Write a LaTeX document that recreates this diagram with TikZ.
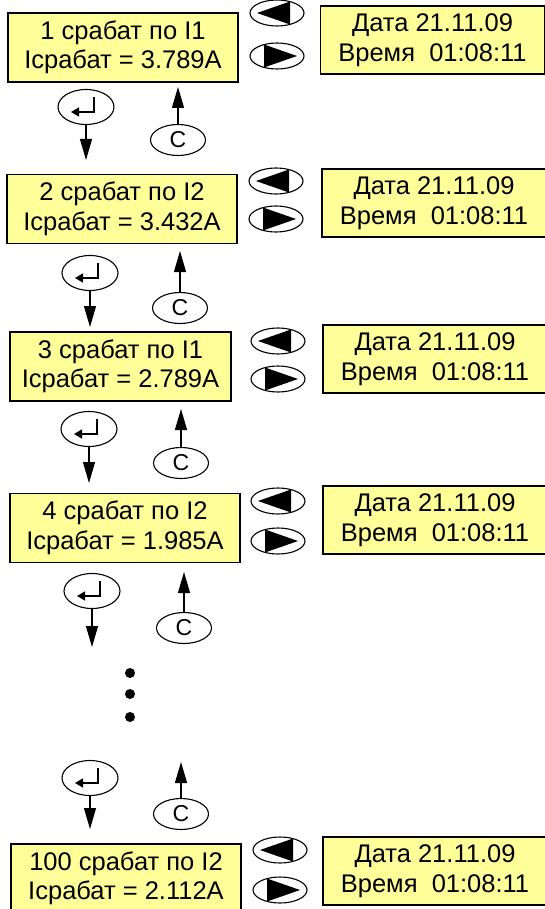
\documentclass[tikz,border=0pt]{standalone}
\usepackage{fontspec}
\setmainfont{Liberation Sans}
\usepackage{tikz}
\usetikzlibrary{arrows.meta}
\usetikzlibrary{calc}
\usetikzlibrary{shapes.geometric}
\definecolor{lcdyellow}{RGB}{255,255,153}

\tikzset{
  lcd/.style={draw,line width=1.4pt,fill=lcdyellow,align=center,inner sep=0pt,
    minimum width=230pt,minimum height=69pt,font=\fontsize{25.5}{29.5}\selectfont},
  datebox/.style={lcd,minimum width=224pt,minimum height=68pt},
  btn/.style={draw,ellipse,line width=1.1pt,inner sep=0pt,minimum width=54pt,minimum height=26pt},
  btnleft/.style={btn,path picture={
    \fill ($(path picture bounding box.center)+(-20pt,0pt)$) -- ($(path picture bounding box.center)+(13pt,11.5pt)$)
      -- ($(path picture bounding box.center)+(13pt,-11.5pt)$) -- cycle;}},
  btnright/.style={btn,path picture={
    \fill ($(path picture bounding box.center)+(20pt,0pt)$) -- ($(path picture bounding box.center)+(-13pt,11.5pt)$)
      -- ($(path picture bounding box.center)+(-13pt,-11.5pt)$) -- cycle;}},
  key/.style={draw,ellipse,line width=1.1pt,inner sep=0pt,minimum width=55pt,minimum height=31pt,
    font=\fontsize{23}{23}\selectfont},
  enterkey/.style={key,minimum width=56pt,minimum height=35pt,path picture={
    \draw[line width=1.4pt,-{Triangle[length=8pt,width=9pt]}] ($(path picture bounding box.center)+(8pt,10pt)$)
      -- ($(path picture bounding box.center)+(8pt,-5pt)$) -- ($(path picture bounding box.center)+(-15pt,-5pt)$);}},
}

\begin{document}
\begin{tikzpicture}[x=1pt,y=-1pt,line width=1.1pt,>={Triangle[length=21pt,width=12pt]}]
\useasboundingbox (0,0) rectangle (545,909);
\clip (0,0) rectangle (545,909);
% first record
\node[lcd] (L1) at (123,47.5) {1 срабат по I1\\Iсрабат = 3.789A};
\node[btnleft] (BL1) at (277,13) {};
\node[btnright] (BR1) at (277,56) {};
\node[datebox] (D1) at (432.5,40) {Дата 21.11.09\\Время\ \ 01:08:11};
\node[enterkey] (E1) at (86,107) {};
\node[key] (C1) at (178,140) {C};
\coordinate (e1) at (86,160);
\coordinate (c1) at (178,87);
\draw [->] (E1) -- (e1);
\draw [->] (C1) -- (c1);
% second record
\node[lcd] (L2) at (122,209) {2 срабат по I2\\Iсрабат = 3.432A};
\node[btnleft] (BL2) at (276,181) {};
\node[btnright] (BR2) at (276,219) {};
\node[datebox] (D2) at (434,203) {Дата 21.11.09\\Время\ \ 01:08:11};
\node[enterkey] (E2) at (90,273) {};
\node[key] (C2) at (180,308) {C};
\coordinate (e2) at (90,327);
\coordinate (c2) at (180,251);
\draw [->] (E2) -- (e2);
\draw [->] (C2) -- (c2);
% third record
\node[lcd,minimum width=221pt] (L3) at (120.5,366.5) {3 срабат по I1\\Iсрабат = 2.789A};
\node[btnleft] (BL3) at (278,341) {};
\node[btnright] (BR3) at (278,379) {};
\node[datebox] (D3) at (435,359) {Дата 21.11.09\\Время\ \ 01:08:11};
\node[enterkey] (E3) at (89,429) {};
\node[key] (C3) at (181,463) {C};
\coordinate (e3) at (89,483);
\coordinate (c3) at (181,409);
\draw [->] (E3) -- (e3);
\draw [->] (C3) -- (c3);
% fourth record
\node[lcd] (L4) at (125,528) {4 срабат по I2\\Iсрабат = 1.985A};
\node[btnleft] (BL4) at (278,501) {};
\node[btnright] (BR4) at (278,541) {};
\node[datebox] (D4) at (435,520) {Дата 21.11.09\\Время\ \ 01:08:11};
\node[enterkey] (E4) at (92,591) {};
\node[key] (C4) at (184,628) {C};
\coordinate (e4) at (92,647);
\coordinate (c4) at (184,572);
\draw [->] (E4) -- (e4);
\draw [->] (C4) -- (c4);
% skipped records
\fill (130,673) circle (5pt);
\fill (130,694) circle (5pt);
\fill (130,717) circle (5pt);
% last record
\node[enterkey] (E5) at (90,778) {};
\node[key] (C5) at (181,814) {C};
\coordinate (e5) at (90,829);
\coordinate (c5) at (181,762);
\draw [->] (E5) -- (e5);
\draw [->] (C5) -- (c5);
\node[lcd] (L5) at (126,878.5) {100 срабат по I2\\Iсрабат = 2.112A};
\node[btnleft] (BL5) at (280,850) {};
\node[btnright] (BR5) at (280,890) {};
\node[datebox] (D5) at (435,871) {Дата 21.11.09\\Время\ \ 01:08:11};
\end{tikzpicture}
\end{document}
